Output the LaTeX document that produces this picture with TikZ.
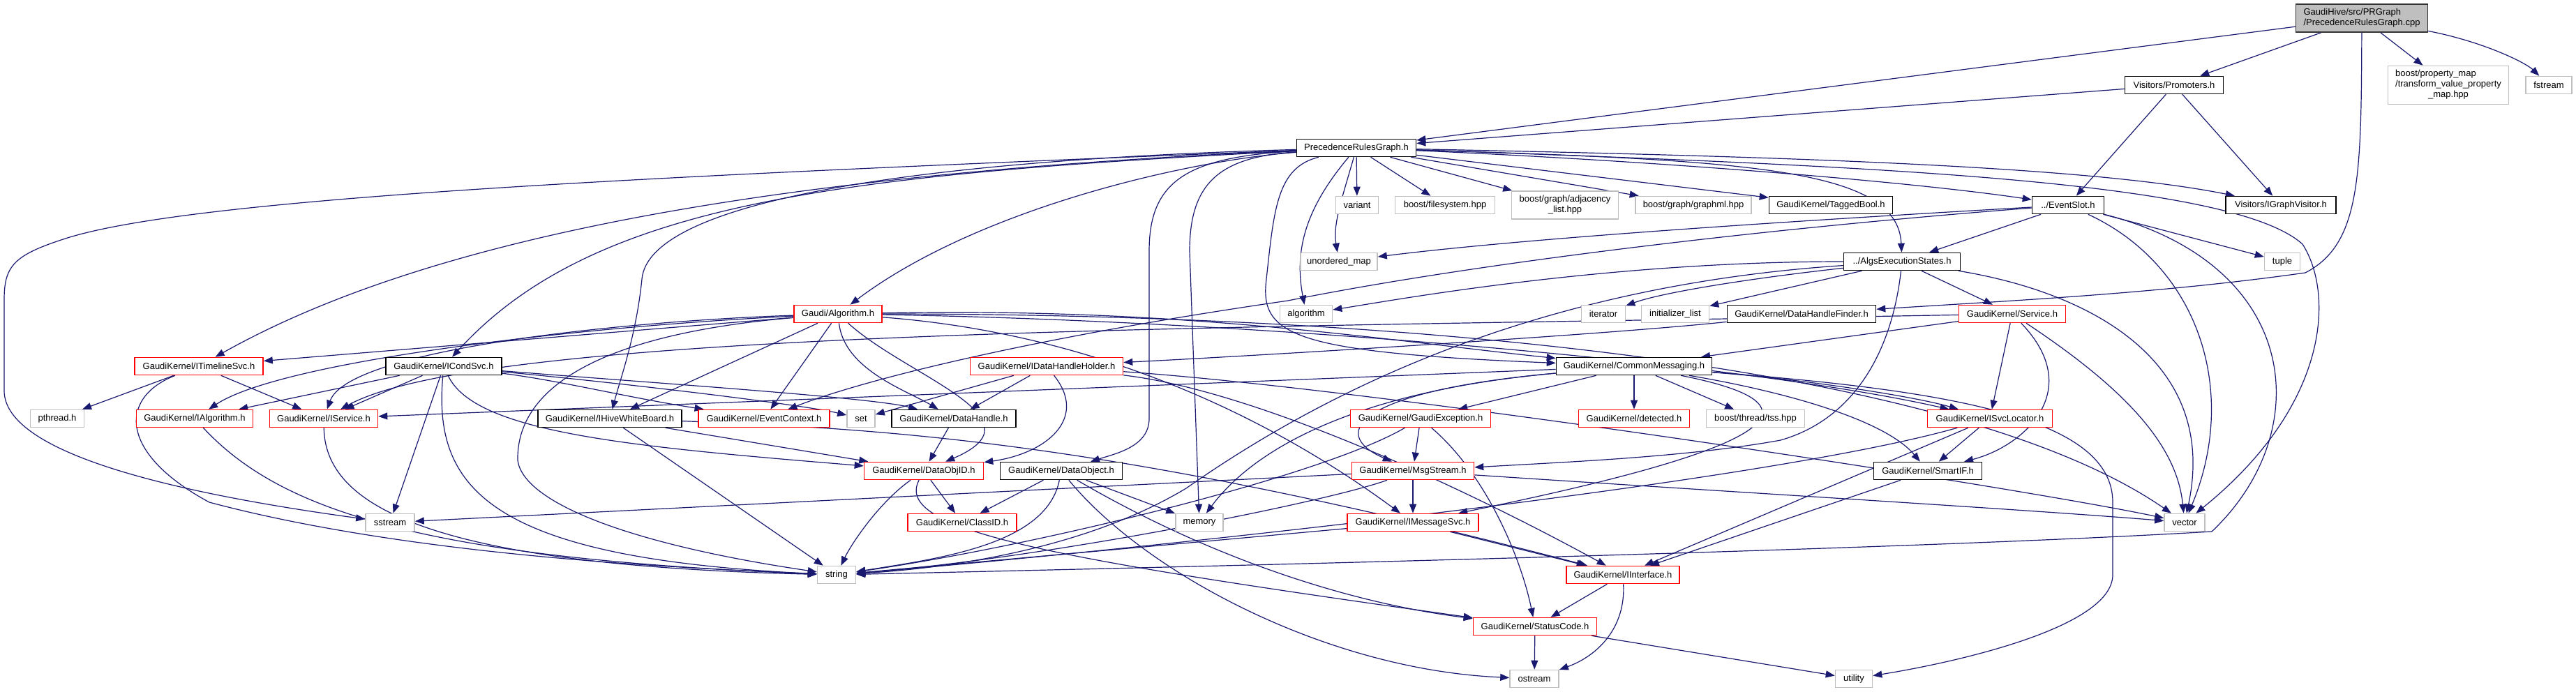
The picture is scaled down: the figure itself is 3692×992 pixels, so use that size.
\documentclass[tikz,border=0pt]{standalone}
\usepackage{fontspec}
\setmainfont{Liberation Sans}
\usetikzlibrary{arrows.meta}
\definecolor{mblue}{RGB}{25,25,112}
\definecolor{gr75}{RGB}{191,191,191}
\definecolor{dred}{RGB}{255,0,0}
\pgfdeclarelayer{bg}
\pgfsetlayers{bg,main}
\begin{document}
\begin{tikzpicture}[x=1pt,y=-1pt,
  font=\fontsize{13}{15}\selectfont,
  nbase/.style={rectangle, line width=1.6pt, fill=white, minimum height=25, inner sep=1pt, text=black},
  nb/.style={nbase, draw=black},
  nr/.style={nbase, draw=dred},
  ng/.style={nbase, draw=gr75},
  root/.style={nbase, draw=black!80, fill=gr75},
  e/.style={draw=mblue, line width=1.2pt, -{Triangle[length=13pt,width=10pt]}}]
\useasboundingbox (0,0) rectangle (3692,992);
% row 0-1
\node[root, minimum width=189, minimum height=40] (cpp) at (3385,26) {\begin{tabular}{@{}l@{}}GaudiHive/src/PRGraph\\/PrecedenceRulesGraph.cpp\end{tabular}};
\node[nb, minimum width=141] (prom) at (3116,122) {Visitors/Promoters.h};
\node[ng, minimum width=173, minimum height=55] (bpm) at (3509,122) {\begin{tabular}{@{}l@{}}boost/property\_map\\/transform\_value\_property\\\multicolumn{1}{@{}c@{}}{\_map.hpp}\end{tabular}};
\node[ng, minimum width=66] (fstream) at (3653,122) {fstream};
% row 2
\node[nb, minimum width=171] (prg) at (1944,212) {PrecedenceRulesGraph.h};
% row 3
\node[ng, minimum width=61] (variant) at (1945,294) {variant};
\node[ng, minimum width=143] (bfs) at (2071,294) {boost/filesystem.hpp};
\node[ng, minimum width=153, minimum height=40] (adj) at (2243,294) {\begin{tabular}{@{}l@{}}boost/graph/adjacency\\\multicolumn{1}{@{}c@{}}{\_list.hpp}\end{tabular}};
\node[ng, minimum width=166] (gml) at (2427,294) {boost/graph/graphml.hpp};
\node[nb, minimum width=177] (tb) at (2624,294) {GaudiKernel/TaggedBool.h};
\node[nb, minimum width=103] (evs) at (2964,294) {../EventSlot.h};
\node[nb, minimum width=158] (igv) at (3269,294) {Visitors/IGraphVisitor.h};
% row 4
\node[ng, minimum width=110] (unmap) at (1919,375) {unordered\_map};
\node[nb, minimum width=167] (aes) at (2726,375) {../AlgsExecutionStates.h};
\node[ng, minimum width=51] (tuple) at (3271,375) {tuple};
% row 5
\node[nr, minimum width=126] (alg) at (1201,450) {Gaudi/Algorithm.h};
\node[ng, minimum width=75] (algorithm) at (1872,450) {algorithm};
\node[ng, minimum width=63] (iterator) at (2298,450) {iterator};
\node[ng, minimum width=97] (initlist) at (2401,450) {initializer\_list};
\node[nb, minimum width=213] (dhf) at (2582,450) {GaudiKernel/DataHandleFinder.h};
\node[nr, minimum width=153] (svc) at (2884,450) {GaudiKernel/Service.h};
% row 6
\node[nr, minimum width=184] (its) at (285,525) {GaudiKernel/ITimelineSvc.h};
\node[nb, minimum width=166] (ics) at (636,525) {GaudiKernel/ICondSvc.h};
\node[nr, minimum width=219] (idhh) at (1500,525) {GaudiKernel/IDataHandleHolder.h};
\node[nb, minimum width=223] (cm) at (2342,525) {GaudiKernel/CommonMessaging.h};
% row 7
\node[ng, minimum width=77] (pthread) at (82,600) {pthread.h};
\node[nr, minimum width=167] (ialg) at (279,600) {GaudiKernel/IAlgorithm.h};
\node[nr, minimum width=155] (isvc) at (464,600) {GaudiKernel/IService.h};
\node[nb, minimum width=206] (ihwb) at (874,600) {GaudiKernel/IHiveWhiteBoard.h};
\node[nr, minimum width=188] (ec) at (1095,600) {GaudiKernel/EventContext.h};
\node[ng, minimum width=40] (set) at (1234,600) {set};
\node[nb, minimum width=178] (dh) at (1367,600) {GaudiKernel/DataHandle.h};
\node[nr, minimum width=201] (gex) at (2036,600) {GaudiKernel/GaudiException.h};
\node[nr, minimum width=159] (det) at (2342,600) {GaudiKernel/detected.h};
\node[ng, minimum width=141] (tss) at (2516,600) {boost/thread/tss.hpp};
\node[nr, minimum width=179] (isl) at (2852,600) {GaudiKernel/ISvcLocator.h};
% row 8
\node[nr, minimum width=171] (doid) at (1324,675) {GaudiKernel/DataObjID.h};
\node[nb, minimum width=175] (dobj) at (1521,675) {GaudiKernel/DataObject.h};
\node[nr, minimum width=175] (msg) at (2025,675) {GaudiKernel/MsgStream.h};
\node[nb, minimum width=155] (sif) at (2763,675) {GaudiKernel/SmartIF.h};
% row 9
\node[ng, minimum width=70] (sstream) at (559,749) {sstream};
\node[nr, minimum width=156] (clid) at (1379,749) {GaudiKernel/ClassID.h};
\node[ng, minimum width=68] (memory) at (1719,749) {memory};
\node[nr, minimum width=188] (imsg) at (2025,749) {GaudiKernel/IMessageSvc.h};
\node[ng, minimum width=58] (vector) at (3131,749) {vector};
% row 10-12
\node[ng, minimum width=55] (string) at (1199,824) {string};
\node[nr, minimum width=162] (iif) at (2326,824) {GaudiKernel/IInterface.h};
\node[nr, minimum width=177] (sc) at (2200,898) {GaudiKernel/StatusCode.h};
\node[ng, minimum width=70] (ostream) at (2199,973) {ostream};
\node[ng, minimum width=53] (utility) at (2657,973) {utility};

\begin{pgfonlayer}{bg}
% cpp
\draw[e] (cpp) -- (prg);
\draw[e] (cpp) -- (prom);
\draw[e] (cpp) -- (bpm);
\draw[e] (cpp) .. controls (3560,60) and (3620,90) .. (fstream);
\draw[e] (cpp) .. controls (3384,250) and (3384,350) .. (3304,391) .. controls (3100,420) and (2900,430) .. (dhf);
% prom
\draw[e] (prom) -- (prg);
\draw[e] (prom) -- (evs);
\draw[e] (prom) -- (igv);
% prg
\draw[e] (prg) -- (variant);
\draw[e] (prg) -- (bfs);
\draw[e] (prg) -- (adj);
\draw[e] (prg) -- (gml);
\draw[e] (prg) -- (tb);
\draw[e] (prg) .. controls (2400,232) and (2750,262) .. (evs);
\draw[e] (prg) .. controls (2600,225) and (3000,240) .. (igv);
\draw[e] (prg) .. controls (2500,230) and (2720,240) .. (aes);
\draw[e] (prg) .. controls (2700,238) and (3200,260) .. (3300,350) .. controls (3345,420) and (3340,580) .. (vector);
\draw[e] (prg) .. controls (1925,280) and (1910,320) .. (unmap);
\draw[e] (prg) .. controls (1870,300) and (1855,360) .. (algorithm);
\draw[e] (prg) .. controls (1700,230) and (1400,300) .. (alg);
\draw[e] (prg) .. controls (1300,230) and (930,290) .. (920,400) .. controls (912,480) and (890,540) .. (ihwb);
\draw[e] (prg) .. controls (1200,245) and (650,320) .. (its);
\draw[e] (prg) .. controls (1200,250) and (850,290) .. (ics);
\draw[e] (prg) .. controls (1000,250) and (300,280) .. (100,340) .. controls (20,365) and (6,380) .. (6,430) -- (6,560) .. controls (6,640) and (200,700) .. (sstream);
\draw[e] (prg) .. controls (1700,225) and (1647,260) .. (1647,360) -- (1647,600) .. controls (1647,640) and (1600,650) .. (dobj);
\draw[e] (prg) .. controls (1750,225) and (1705,260) .. (1705,360) -- (memory);
\draw[e] (prg) .. controls (1830,240) and (1826,300) .. (1815,400) .. controls (1805,480) and (1850,505) .. (cm);
% evs
\draw[e] (evs) -- (aes);
\draw[e] (evs) .. controls (2600,315) and (2200,340) .. (unmap);
\draw[e] (evs) .. controls (2500,330) and (2100,380) .. (1846,431) .. controls (1500,481) and (1250,540) .. (ec);
\draw[e] (evs) -- (tuple);
\draw[e] (evs) .. controls (3150,380) and (3210,560) .. (vector);
\draw[e] (evs) .. controls (3300,380) and (3320,620) .. (3170,762) .. controls (2700,790) and (1600,815) .. (string);
% aes
\draw[e] (aes) .. controls (2300,375) and (2000,430) .. (algorithm);
\draw[e] (aes) .. controls (2500,400) and (2380,420) .. (iterator);
\draw[e] (aes) -- (initlist);
\draw[e] (aes) -- (svc);
\draw[e] (aes) .. controls (3000,420) and (3180,520) .. (vector);
\draw[e] (aes) .. controls (2200,410) and (1900,560) .. (1700,700) .. controls (1550,790) and (1350,815) .. (string);
\draw[e] (aes) .. controls (2712,500) and (2660,600) .. (2552,631) .. controls (2420,655) and (2250,662) .. (msg);
% svc
\draw[e] (svc) -- (cm);
\draw[e] (svc) -- (isl);
\draw[e] (svc) .. controls (2990,560) and (2900,640) .. (sif);
\draw[e] (svc) .. controls (3050,560) and (3120,640) .. (vector);
\draw[e] (svc) .. controls (1800,470) and (700,470) .. (isvc);
% cm
\draw[e] (cm) -- (gex);
\draw[e] (cm) -- (det);
\draw[e] (cm) -- (tss);
\draw[e] (cm) .. controls (2600,545) and (2750,570) .. (isl);
\draw[e] (cm) .. controls (2550,560) and (2700,600) .. (sif);
\draw[e] (cm) -- (isvc);
\draw[e] (cm) .. controls (1950,560) and (1900,620) .. (msg);
\draw[e] (cm) .. controls (2620,580) and (2560,640) .. (imsg);
\draw[e] (cm) .. controls (2800,560) and (3028,600) .. (3028,720) -- (3028,824) .. controls (3028,900) and (2800,950) .. (utility);
\draw[e] (cm) .. controls (1950,560) and (1800,640) .. (memory);
% gex
\draw[e] (gex) -- (msg);
\draw[e] (gex) .. controls (2130,680) and (2180,800) .. (sc);
\draw[e] (gex) .. controls (1900,680) and (1500,780) .. (string);
% msg
\draw[e] (msg) -- (imsg);
\draw[e] (msg) .. controls (1900,720) and (1500,800) .. (string);
\draw[e] (msg) .. controls (2400,700) and (2900,730) .. (vector);
\draw[e] (msg) -- (sstream);
% imsg
\draw[e] (imsg) -- (iif);
\draw[e] (imsg) -- (string);
% isl
\draw[e] (isl) -- (iif);
\draw[e] (isl) -- (sif);
\draw[e] (isl) .. controls (2500,700) and (1500,800) .. (string);
% sif
\draw[e] (sif) -- (iif);
% iif
\draw[e] (iif) -- (sc);
\draw[e] (iif) .. controls (2330,900) and (2290,940) .. (ostream);
% sc
\draw[e] (sc) -- (ostream);
\draw[e] (sc) -- (utility);
% doid
\draw[e] (doid) -- (clid);
\draw[e] (doid) .. controls (1260,720) and (1220,780) .. (string);
\draw[e] (doid) .. controls (1280,760) and (1500,800) .. (sc);
% dobj
\draw[e] (dobj) -- (clid);
\draw[e] (dobj) .. controls (1500,780) and (1350,800) .. (string);
\draw[e] (dobj) -- (memory);
\draw[e] (dobj) .. controls (1700,780) and (1900,860) .. (sc);
\draw[e] (dobj) .. controls (1640,820) and (1900,960) .. (ostream);
% dh
\draw[e] (dh) -- (doid);
% idhh
\draw[e] (idhh) -- (set);
\draw[e] (idhh) -- (dh);
\draw[e] (idhh) .. controls (1560,600) and (1500,650) .. (doid);
\draw[e] (idhh) .. controls (2000,560) and (2900,700) .. (vector);
\draw[e] (idhh) .. controls (1800,560) and (2100,700) .. (iif);
% dhf
\draw[e] (dhf) .. controls (2300,480) and (1800,510) .. (idhh);
% ihwb
\draw[e] (ihwb) -- (doid);
\draw[e] (ihwb) -- (string);
\draw[e] (ihwb) .. controls (1300,615) and (1620,640) .. (iif);
% its
\draw[e] (its) -- (pthread);
\draw[e] (its) -- (isvc);
\draw[e] (its) .. controls (170,570) and (170,650) .. (300,720) .. controls (600,800) and (1000,815) .. (string);
% ialg, isvc
\draw[e] (ialg) .. controls (400,730) and (600,800) .. (string);
\draw[e] (isvc) .. controls (466,720) and (600,810) .. (string);
% ics
\draw[e] (ics) -- (ialg);
\draw[e] (ics) -- (isvc);
\draw[e] (ics) -- (sstream);
\draw[e] (ics) .. controls (620,700) and (700,800) .. (string);
\draw[e] (ics) .. controls (800,545) and (900,570) .. (ec);
\draw[e] (ics) .. controls (900,550) and (1150,580) .. (set);
\draw[e] (ics) .. controls (950,550) and (1250,570) .. (dh);
\draw[e] (ics) .. controls (680,620) and (900,640) .. (doid);
% alg
\draw[e] (alg) -- (its);
\draw[e] (alg) .. controls (800,470) and (400,520) .. (ialg);
\draw[e] (alg) .. controls (900,460) and (500,500) .. (isvc);
\draw[e] (alg) -- (ihwb);
\draw[e] (alg) -- (ec);
\draw[e] (alg) .. controls (1210,530) and (1300,560) .. (dh);
\draw[e] (alg) .. controls (1300,540) and (1500,600) .. (doid);
\draw[e] (alg) .. controls (850,480) and (740,560) .. (742,660) .. controls (750,720) and (900,780) .. (string);
\draw[e] (alg) .. controls (1700,440) and (2000,490) .. (cm);
\draw[e] (alg) .. controls (2000,450) and (2800,520) .. (vector);
\draw[e] (alg) .. controls (1800,460) and (2500,520) .. (isl);
\draw[e] (alg) .. controls (1600,480) and (1850,620) .. (imsg);
\end{pgfonlayer}
\end{tikzpicture}
\end{document}
